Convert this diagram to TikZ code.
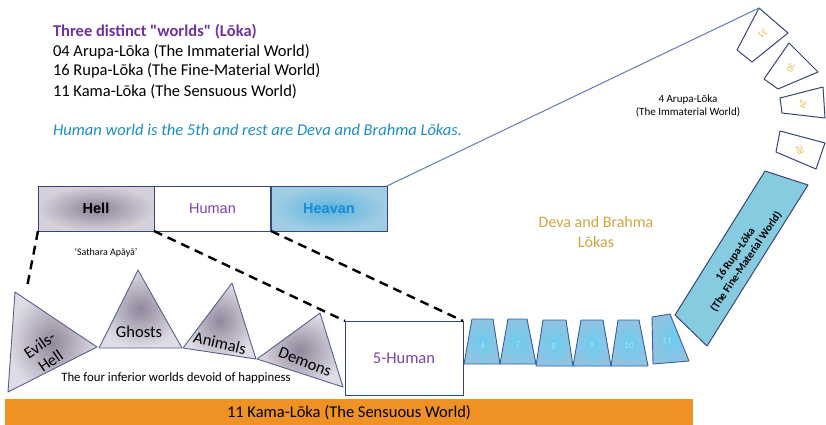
\documentclass[tikz,border=0pt]{standalone}
\usepackage{fontspec}
\setmainfont{Carlito}
\newfontfamily\carlitoplain{Carlito}
\newfontfamily\arial{Liberation Sans}
\usetikzlibrary{shapes.geometric}

\definecolor{titlepurple}{RGB}{112,48,160}
\definecolor{humanpurple}{RGB}{125,65,175}
\definecolor{noteblue}{RGB}{30,140,195}
\definecolor{heavanblue}{RGB}{25,140,215}
\definecolor{edge}{RGB}{55,70,120}
\definecolor{hellin}{RGB}{140,130,152}
\definecolor{hellout}{RGB}{212,209,218}
\definecolor{skyin}{RGB}{95,180,222}
\definecolor{skyout}{RGB}{160,205,228}
\definecolor{triin}{RGB}{145,135,155}
\definecolor{triout}{RGB}{222,220,230}
\definecolor{trapedge}{RGB}{50,95,165}
\definecolor{trapin}{RGB}{105,205,240}
\definecolor{trapout}{RGB}{145,195,225}
\definecolor{rupafill}{RGB}{135,203,225}
\definecolor{kamaorange}{RGB}{240,146,35}
\definecolor{gold}{RGB}{208,165,65}
\definecolor{arupanum}{RGB}{236,182,72}
\definecolor{numwhite}{RGB}{185,225,242}
\definecolor{thinblue}{RGB}{95,125,175}

\begin{document}
\begin{tikzpicture}[x=1pt,y=-1pt,
  every node/.style={inner sep=0pt, outer sep=0pt},
  body/.style={font=\fontsize{16.5}{19.5}\selectfont},
  barbox/.style={draw=edge, line width=1pt, minimum width=116pt, minimum height=45pt,
    anchor=north west, font=\arial\fontsize{14.5}{16}\selectfont},
  tri/.style={draw=edge!85, line width=0.9pt, line join=round, shading=radial,
    inner color=triin, outer color=triout},
  trilabel/.style={font=\fontsize{16.5}{19}\selectfont, align=center},
  trap/.style={draw=trapedge, line width=0.9pt, line join=round, shading=radial,
    inner color=trapin, outer color=trapout},
  trapnum/.style={font=\fontsize{9}{10}\selectfont, text=numwhite},
  arupa/.style={draw=edge, line width=1pt, line join=round, fill=white},
  arupanumber/.style={font=\fontsize{9}{10}\selectfont, text=arupanum},
  link/.style={dash pattern=on 9pt off 6pt, line width=2.4pt, black}]
\useasboundingbox (0,0) rectangle (826,425);

% ---- heading text ----
\node[anchor=base west, text=titlepurple, font=\carlitoplain\bfseries\fontsize{16.5}{19.5}\selectfont] (title) at (53,37) {Three distinct "worlds" (Lōka)};
\node[body, anchor=base west] (lineA) at (53,57) {04 Arupa-Lōka (The Immaterial World)};
\node[body, anchor=base west] (lineB) at (53,76) {16 Rupa-Lōka (The Fine-Material World)};
\node[body, anchor=base west] (lineC) at (53,96) {11 Kama-Lōka (The Sensuous World)};
\node[body, anchor=base west, text=noteblue, font=\itshape\fontsize{16.5}{19.5}\selectfont] (note) at (53,135) {Human world is the 5th and rest are Deva and Brahma Lōkas.};

% ---- Hell / Human / Heavan bar ----
\node[barbox, shading=radial, inner color=hellin, outer color=hellout, font=\arial\bfseries\fontsize{14.5}{16}\selectfont] (hell) at (38,186) {Hell};
\node[barbox, fill=white, text=humanpurple] (human) at (154.5,186) {Human};
\node[barbox, shading=radial, inner color=skyin, outer color=skyout, text=heavanblue, font=\arial\bfseries\fontsize{14.5}{16}\selectfont] (heaven) at (271,186) {Heavan};

\node[font=\fontsize{10}{12}\selectfont] (apaya) at (106,253) {`Sathara Apāyā'};

% ---- the four inferior worlds ----
\path[tri] (15,292) -- (97,347) -- (8,392) -- cycle;
\path[tri] (138,270) -- (182,348) -- (99,348) -- cycle;
\path[tri] (232,283) -- (256,359) -- (183,348) -- cycle;
\path[tri] (320,313) -- (343,387) -- (257,359) -- cycle;
\node[trilabel, rotate=35] (evils) at (45,353) {Evils-\\Hell};
\node[trilabel] (ghosts) at (139,332) {Ghosts};
\node[trilabel, rotate=-13] (animals) at (220,343) {Animals};
\node[trilabel, rotate=-21] (demons) at (305,362) {Demons};
\node[font=\fontsize{12.8}{14}\selectfont] (four) at (176,378) {The four inferior worlds devoid of happiness};
\coordinate (evilstop) at (27,287);

% ---- the human world ----
\node[draw=edge, line width=1pt, fill=white, minimum width=118pt, minimum height=74pt, anchor=north west,
  text=humanpurple, font=\fontsize{16.5}{18}\selectfont] (human5) at (345,321) {5-Human};

% ---- Kama-Loka base ----
\node[fill=kamaorange, minimum width=688pt, minimum height=27pt, anchor=north west,
  font=\fontsize{16.5}{18}\selectfont] (kama) at (5,399) {11 Kama-Lōka (The Sensuous World)};

% ---- Deva worlds 6 to 11 ----
\path[trap] (472,319) -- (493,319) -- (500,364) -- (464,364) -- cycle;
\path[trap] (508,319) -- (527,319) -- (536,364) -- (500,364) -- cycle;
\path[trap] (543,320) -- (566,320) -- (573,366) -- (536,366) -- cycle;
\path[trap] (581,320) -- (603,320) -- (611,366) -- (573,366) -- cycle;
\path[trap] (618,320) -- (639,320) -- (648,366) -- (611,366) -- cycle;
\path[trap] (652,317) -- (670,314) -- (689,361) -- (653,364) -- cycle;
\node[trapnum] (n6) at (483,345) {6};
\node[trapnum] (n7) at (518,345) {7};
\node[trapnum] (n8) at (554,346) {8};
\node[trapnum] (n9) at (592,346) {9};
\node[trapnum] (n10) at (629,346) {10};
\node[trapnum, rotate=-5] (n11) at (667,341) {11};

\node[text=gold, align=center, font=\fontsize{16}{20}\selectfont] (deva) at (596,232) {Deva and Brahma\\Lōkas};

% ---- Rupa-Loka ----
\path[draw=edge, line width=1pt, line join=round, fill=rupafill] (765,171) -- (808,185) -- (707,346) -- (675,315) -- cycle;
\node[rotate=56, align=center, font=\bfseries\fontsize{11}{13}\selectfont] (rupa) at (741,258) {16 Rupa-Lōka\\(The Fine-Material World)};

% ---- Arupa-Loka 28 to 31 ----
\coordinate (a31) at (759,8);
\path[arupa] (a31) -- (788,33) -- (752,62) -- (737,50) -- cycle;
\path[arupa] (789,43) -- (818,72) -- (778,89) -- (764,79) -- cycle;
\path[arupa] (780,98) -- (823,87) -- (825,118) -- (782,113) -- cycle;
\path[arupa] (780,131) -- (825,143) -- (816,169) -- (776,152) -- cycle;
\node[arupanumber, rotate=-135] (n31) at (763,34) {31};
\node[arupanumber, rotate=-115] (n30) at (791,68) {30};
\node[arupanumber, rotate=-100] (n29) at (803,104) {29};
\node[arupanumber, rotate=-80] (n28) at (800,150) {28};
\node[align=center, font=\fontsize{11}{13}\selectfont] (arupa) at (688,106) {4 Arupa-Lōka\\(The Immaterial World)};

% ---- connectors ----
\draw[thinblue, line width=1pt] (heaven.north east) -- (a31);
\draw[link] (hell.south west) -- (evilstop);
\draw[link] (hell.south east) -- (human5.north west);
\draw[link] (heaven.south west) -- (human5.north east);
\end{tikzpicture}
\end{document}
